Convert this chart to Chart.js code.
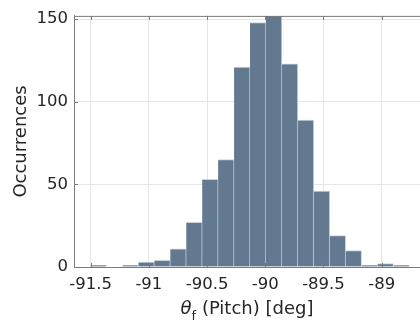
<!DOCTYPE html>
<html>
<head>
<meta charset="utf-8">
<script src="https://cdn.jsdelivr.net/npm/chart.js@4"></script>
<style>
  html, body { margin: 0; padding: 0; background: #fff; overflow: hidden; }
</style>
</head>
<body>
<canvas id="histChart" width="420" height="329"></canvas>
<script>
// bin centres (deg) and counts
const binCenters = [-91.4316, -91.2947, -91.1578, -91.0209, -90.8840, -90.7471, -90.6102,
                    -90.4733, -90.3364, -90.1995, -90.0626, -89.9257, -89.7888, -89.6519,
                    -89.5150, -89.3781, -89.2412, -89.1043, -88.9674, -88.8305];
const counts = [1, 0, 1, 3, 4, 11, 27, 53, 65, 121, 148, 154, 123, 89, 46, 19, 10, 1, 2, 1];

const xTicks = [-91.5, -91, -90.5, -90, -89.5, -89];
const yTicks = [0, 50, 100, 150];

const textColor = '#262626';
const axisColor = '#7a7a7a';
const gridColor = '#e6e6e6';

const ctx = document.getElementById('histChart');

// inward tick marks, top box line and the x label with subscript
const framePlugin = {
    id: 'frame',
    afterDraw(chart) {
        const c = chart.ctx;
        const area = chart.chartArea;
        const xs = chart.scales.x;
        const ys = chart.scales.y;
        c.save();
        c.strokeStyle = axisColor;
        c.lineWidth = 1;
        c.beginPath();
        c.moveTo(area.left, area.top + 0.5);
        c.lineTo(area.right, area.top + 0.5);
        xTicks.forEach(v => {
            const px = Math.round(xs.getPixelForValue(v)) + 0.5;
            c.moveTo(px, area.bottom);
            c.lineTo(px, area.bottom - 4);
            c.moveTo(px, area.top);
            c.lineTo(px, area.top + 4);
        });
        yTicks.forEach(v => {
            const py = Math.round(ys.getPixelForValue(v)) + 0.5;
            c.moveTo(area.left, py);
            c.lineTo(area.left + 4, py);
        });
        c.stroke();

        // x axis title: theta_f (Pitch) [deg]
        const bigFont = '18px "DejaVu Sans"';
        const thetaFont = 'italic 18px "DejaVu Sans"';
        const subFont = '13px "DejaVu Sans"';
        c.fillStyle = textColor;
        c.textBaseline = 'alphabetic';
        c.font = thetaFont;
        const wTheta = c.measureText('θ').width;
        c.font = subFont;
        const wSub = c.measureText('f').width;
        c.font = bigFont;
        const rest = ' (Pitch) [deg]';
        const wRest = c.measureText(rest).width;
        const total = wTheta + wSub + wRest;
        let x = (area.left + area.right) / 2 - total / 2;
        const base = 314;
        c.textAlign = 'left';
        c.font = thetaFont;
        c.fillText('θ', x, base);
        x += wTheta;
        c.font = subFont;
        c.fillText('f', x, base + 6);
        x += wSub;
        c.font = bigFont;
        c.fillText(rest, x, base);
        c.restore();
    }
};

const histChart = new Chart(ctx, {
    type: 'bar',
    data: {
        datasets: [{
            label: 'Occurrences',
            data: binCenters.map((b, i) => ({ x: b, y: counts[i] })),
            backgroundColor: 'rgb(99,121,143)',
            borderColor: '#c9d2db',
            borderWidth: { top: 1, right: 1, left: 0, bottom: 0 },
            borderSkipped: false,
            barPercentage: 1,
            categoryPercentage: 1
        }]
    },
    options: {
        responsive: false,
        animation: false,
        layout: { padding: { top: 13, right: 0, left: 0, bottom: 0 } },
        plugins: {
            legend: { display: false },
            tooltip: { enabled: false }
        },
        scales: {
            x: {
                type: 'linear',
                min: -91.643,
                max: -88.671,
                offset: false,
                afterBuildTicks: s => { s.ticks = xTicks.map(v => ({ value: v })); },
                afterFit: s => { s.height = 62; },
                grid: { color: gridColor, offset: false, drawTicks: false },
                border: { color: axisColor, width: 1 },
                ticks: {
                    autoSkip: false,
                    maxRotation: 0,
                    padding: 8,
                    color: textColor,
                    font: { family: 'DejaVu Sans', size: 16.5 },
                    callback: v => String(v)
                }
            },
            y: {
                min: 0,
                max: 152,
                afterBuildTicks: s => { s.ticks = yTicks.map(v => ({ value: v })); },
                afterFit: s => { s.width = 74; },
                grid: { color: gridColor, drawTicks: false },
                border: { color: axisColor, width: 1 },
                ticks: {
                    padding: 6,
                    color: textColor,
                    font: { family: 'DejaVu Sans', size: 16.5 },
                    callback: v => String(v)
                },
                title: {
                    display: true,
                    text: 'Occurrences',
                    color: textColor,
                    font: { family: 'DejaVu Sans', size: 18 },
                    padding: { top: 10.5, bottom: 0 }
                }
            }
        }
    },
    plugins: [framePlugin]
});
</script>
</body>
</html>
